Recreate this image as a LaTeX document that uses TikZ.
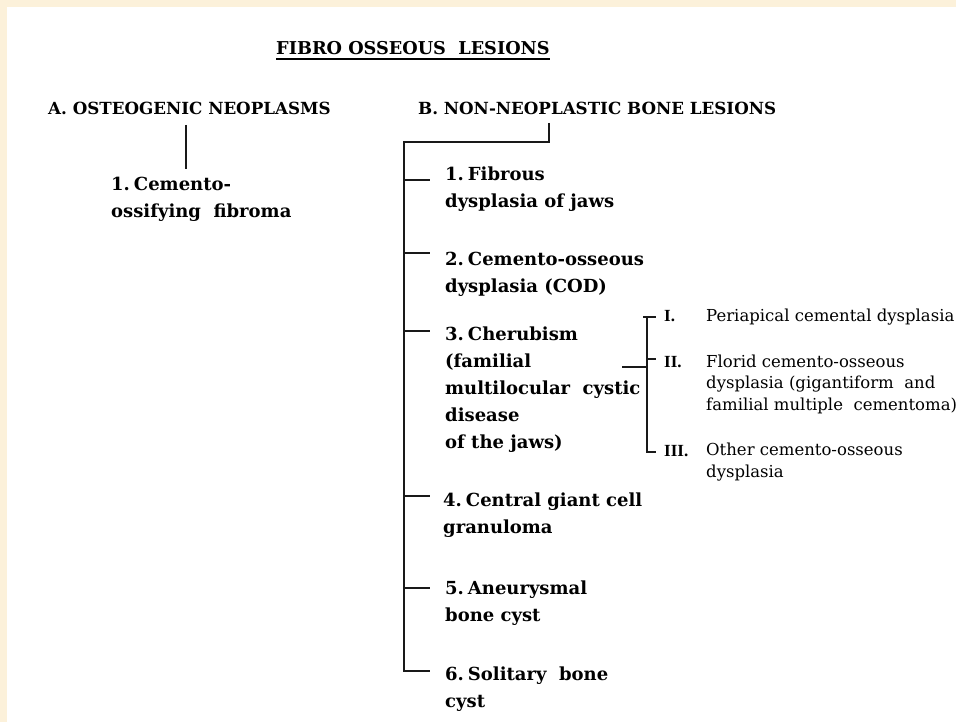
\documentclass[tikz,border=0pt]{standalone}
\usepackage{fontspec}
\setmainfont{DejaVu Serif}
\newfontfamily\romfont{Liberation Serif}
\usetikzlibrary{calc}
\definecolor{cream}{RGB}{252,241,218}
\begin{document}
\begin{tikzpicture}[x=1pt,y=-1pt,
  ln/.style={line width=1.7pt, black!90},
  mainitem/.style={anchor=base west, inner sep=0pt, align=left, font=\bfseries\fontsize{18}{27}\selectfont},
  subitem/.style={anchor=base west, inner sep=0pt, align=left, font=\fontsize{16.5}{21.5}\selectfont},
  roman/.style={anchor=base west, inner sep=0pt, font=\romfont\bfseries\fontsize{17}{18}\selectfont},
  head/.style={anchor=base west, inner sep=0pt, font=\bfseries\fontsize{16.7}{20}\selectfont}]
\fill[cream] (0,0) rectangle (956,722);
\fill[white] (7,7) rectangle (956,722);
\useasboundingbox (0,0) rectangle (956,722);

% title (multi-line nodes are placed by the baseline of their last line)
\node[head, font=\bfseries\fontsize{17.7}{20}\selectfont] (title) at (276,55) {FIBRO OSSEOUS\ \ LESIONS};
\draw[line width=1.6pt] ($(title.base west)+(0,4)$) -- ($(title.base east)+(0,4)$);

% headings
\node[head] (A) at (48,115) {A. OSTEOGENIC NEOPLASMS};
\node[head] (B) at (418,115) {B. NON-NEOPLASTIC BONE LESIONS};

% A branch
\node[mainitem] (a1) at (111,218) {1.\hspace{0.22em}Cemento-\\ossifying\ \ fibroma};
\coordinate (aTop) at (186,125);
\coordinate (aBot) at (186,169);
\draw[ln] (aTop) -- (aBot);

% B items
\node[mainitem] (b1) at (445,208) {1.\hspace{0.22em}Fibrous\\dysplasia of jaws};
\node[mainitem] (b2) at (445,292) {2.\hspace{0.22em}Cemento-osseous\\dysplasia (COD)};
\node[mainitem] (b3) at (445,448) {3.\hspace{0.22em}Cherubism\\(familial\\multilocular\ \ cystic\\disease\\of the jaws)};
\node[mainitem] (b4) at (443,533) {4.\hspace{0.22em}Central giant cell\\granuloma};
\node[mainitem] (b5) at (445,621) {5.\hspace{0.22em}Aneurysmal\\bone cyst};
\node[mainitem] (b6) at (445,707) {6.\hspace{0.22em}Solitary\ \ bone\\cyst};

% B trunk
\coordinate (bTop) at (549,123);
\coordinate (bCorner) at (549,142);
\coordinate (tTop) at (404,142);
\coordinate (tBot) at (404,671);
\coordinate (t6) at (430,671);
\draw[ln] (bTop) -- (bCorner) -- (tTop) -- (tBot) -- (t6);
\foreach \y in {180,253,331,496,588}
  \draw[ln] (404,\y) -- (430,\y);

% sub items of cherubism
\node[roman] (r1) at (664,321) {I.};
\node[subitem] (s1) at (706,321) {Periapical cemental dysplasia};
\node[roman] (r2) at (664,367) {II.};
\node[subitem] (s2) at (706,410) {Florid cemento-osseous\\dysplasia (gigantiform\ \ and\\familial multiple\ \ cementoma)};
\node[roman] (r3) at (664,456) {III.};
\node[subitem] (s3) at (706,477) {Other cemento-osseous\\dysplasia};

\coordinate (cL) at (622,367);
\coordinate (cM) at (647,367);
\coordinate (vTop) at (647,317);
\coordinate (vBot) at (647,452);
\draw[ln] (cL) -- (cM);
\draw[ln] (643,317) -- (656,317);
\draw[ln] (vTop) -- (vBot) -- (656,452);
\draw[ln] (647,359) -- (656,359);
\end{tikzpicture}
\end{document}
